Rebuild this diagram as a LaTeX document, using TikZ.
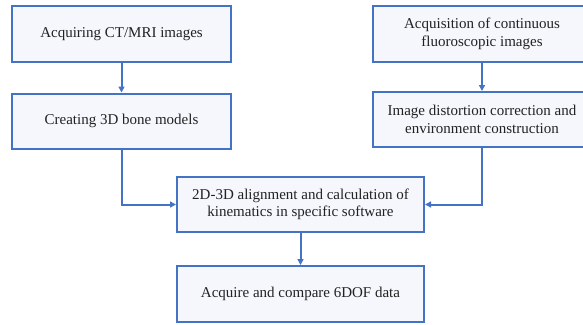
\documentclass[tikz,border=0pt]{standalone}
\usepackage{fontspec}
\setmainfont{Liberation Serif}
\usepackage{tikz}
\usetikzlibrary{arrows.meta}
\definecolor{boxblue}{HTML}{4472C4}
\definecolor{boxfill}{HTML}{F5F7FC}
\definecolor{txtgray}{HTML}{222222}
\tikzset{
	stepbox/.style={draw=boxblue, fill=boxfill, line width=2pt, inner sep=0pt, align=center, text=txtgray, font=\fontsize{15}{17.5}\selectfont},
	flow/.style={draw=boxblue, line width=2pt, -{Triangle[length=6pt,width=6pt]}}
}

\begin{document}
\begin{tikzpicture}[x=1pt,y=-1pt]
			%%%%% START %%%%%
			
			\useasboundingbox (0, 0) rectangle (583, 324);
			\clip (0, 0) rectangle (583, 324);
			
			\node[stepbox, minimum width=219pt, minimum height=56pt] (ct) at (121.5, 34) {Acquiring CT/MRI images};
			\node[stepbox, minimum width=219pt, minimum height=55pt] (bone) at (121.5, 121) {Creating 3D bone models};
			
			\node[stepbox, minimum width=218pt, minimum height=56pt] (fluoro) at (482, 34) {Acquisition of continuous\\fluoroscopic images};
			\node[stepbox, minimum width=218pt, minimum height=55pt] (distort) at (482, 119.5) {Image distortion correction and\\environment construction};
			
			\node[stepbox, minimum width=247pt, minimum height=55pt] (align) at (300.5, 204.5) {2D-3D alignment and calculation of\\kinematics in specific software};
			\node[stepbox, minimum width=247pt, minimum height=56pt] (dof) at (300.5, 294) {Acquire and compare 6DOF data};
			
			\draw[flow] (ct) -- (bone);
			\draw[flow] (fluoro) -- (distort);
			\draw[flow] (bone.south) |- (align.west);
			\draw[flow] (distort.south) |- (align.east);
			\draw[flow] (align) -- (dof);
			
			%%%%% END %%%%%
\end{tikzpicture}
\end{document}
